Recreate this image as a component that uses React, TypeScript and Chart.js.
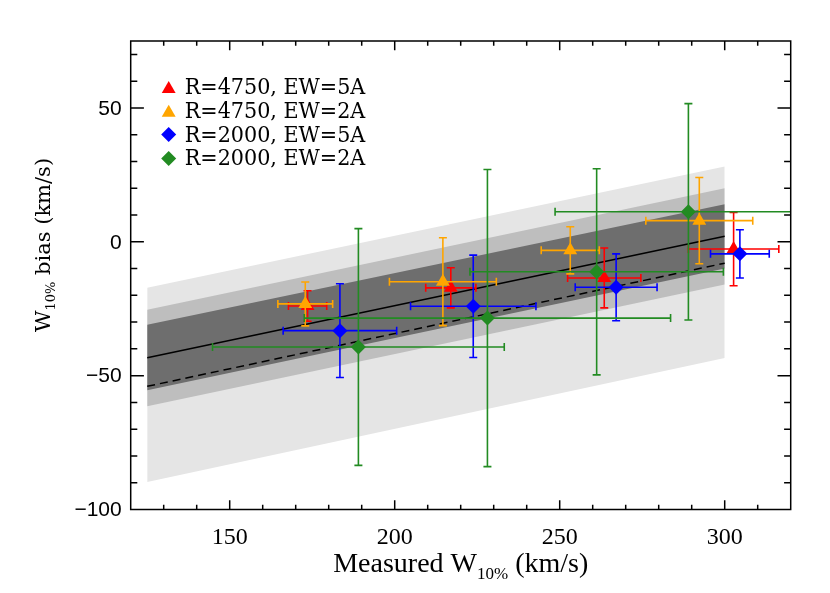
import React, { useEffect, useRef } from "react";
import { Chart, registerables } from "chart.js";

Chart.register(...registerables);

// ---- axes ----
const xMin = 120;
const xMax = 320;
const yMin = -100;
const yMax = 75;
const xMajorTicks = [150, 200, 250, 300];
const yMajorTicks = [-100, -50, 0, 50];
const minorStep = 10;

// ---- series ----
const seriesLabels = ["R=4750, EW=5A", "R=4750, EW=2A", "R=2000, EW=5A", "R=2000, EW=2A"];
const seriesColors = ["#ff0000", "#ffa500", "#0000ff", "#228b22"];
const seriesShapes = ["triangle", "triangle", "rectRot", "rectRot"];

const redX = [173.6, 217.0, 263.5, 302.7];
const redY = [-24.0, -17.2, -13.5, -2.7];
const redXErr = [5.8, 7.6, 11.1, 13.7];
const redYErr = [5.7, 7.5, 11.2, 13.7];

const orangeX = [172.9, 214.6, 253.2, 292.3];
const orangeY = [-23.2, -14.9, -3.2, 7.9];
const orangeXErr = [8.3, 16.2, 8.8, 16.2];
const orangeYErr = [8.2, 16.4, 8.8, 16.1];

const blueX = [183.4, 223.8, 267.1, 304.6];
const blueY = [-33.2, -24.1, -17.0, -4.5];
const blueXErr = [17.2, 19.0, 12.4, 8.9];
const blueYErr = [17.5, 19.1, 12.5, 9.0];

const greenX = [189.0, 228.1, 261.2, 289.0];
const greenY = [-39.3, -28.5, -11.2, 11.2];
const greenXErr = [44.2, 55.5, 38.4, 40.4];
const greenYErr = [44.2, 55.5, 38.5, 40.4];

// ---- fit lines and bands ----
const bandX = [125, 300];
const fitSolid = [-43.3, 2.1];
const fitDashed = [-54.0, -8.0];
const lightUpper = [-17.2, 28.1];
const lightLower = [-89.7, -43.4];
const midUpper = [-25.4, 20.0];
const midLower = [-61.4, -16.0];
const darkUpper = [-31.0, 14.0];
const darkLower = [-55.5, -10.0];

const lightColor = "#e5e5e5";
const midColor = "#bebebe";
const darkColor = "#6e6e6e";

const seriesX = [redX, orangeX, blueX, greenX];
const seriesY = [redY, orangeY, blueY, greenY];
const seriesXErr = [redXErr, orangeXErr, blueXErr, greenXErr];
const seriesYErr = [redYErr, orangeYErr, blueYErr, greenYErr];

const pts = (xs: number[], ys: number[]) => xs.map((x, i) => ({ x, y: ys[i] }));

function markerPath(ctx: CanvasRenderingContext2D, shape: string, x: number, y: number, r: number) {
  ctx.beginPath();
  if (shape === "triangle") {
    ctx.moveTo(x, y - r);
    ctx.lineTo(x + r * Math.sin((2 * Math.PI) / 3), y - r * Math.cos((2 * Math.PI) / 3));
    ctx.lineTo(x + r * Math.sin((4 * Math.PI) / 3), y - r * Math.cos((4 * Math.PI) / 3));
  } else {
    ctx.moveTo(x - r, y);
    ctx.lineTo(x, y - r);
    ctx.lineTo(x + r, y);
    ctx.lineTo(x, y + r);
  }
  ctx.closePath();
}

const errorBarPlugin = {
  id: "errorBars",
  beforeDatasetDraw(chart: any, args: any) {
    const ds = chart.data.datasets[args.index];
    if (!ds.xErr) return;
    const { ctx, chartArea: a, scales } = chart;
    const sx = scales.x;
    const sy = scales.y;
    const cap = 4;
    ctx.save();
    ctx.beginPath();
    ctx.rect(a.left, a.top, a.right - a.left, a.bottom - a.top);
    ctx.clip();
    ctx.strokeStyle = ds.borderColor;
    ctx.lineWidth = 1.6;
    ds.data.forEach((p: any, i: number) => {
      const x0 = sx.getPixelForValue(p.x - ds.xErr[i]);
      const x1 = sx.getPixelForValue(p.x + ds.xErr[i]);
      const y0 = sy.getPixelForValue(p.y - ds.yErr[i]);
      const y1 = sy.getPixelForValue(p.y + ds.yErr[i]);
      const px = sx.getPixelForValue(p.x);
      const py = sy.getPixelForValue(p.y);
      ctx.beginPath();
      ctx.moveTo(x0, py); ctx.lineTo(x1, py);
      ctx.moveTo(x0, py - cap); ctx.lineTo(x0, py + cap);
      ctx.moveTo(x1, py - cap); ctx.lineTo(x1, py + cap);
      ctx.moveTo(px, y0); ctx.lineTo(px, y1);
      ctx.moveTo(px - cap, y0); ctx.lineTo(px + cap, y0);
      ctx.moveTo(px - cap, y1); ctx.lineTo(px + cap, y1);
      ctx.stroke();
    });
    ctx.restore();
  },
};

function drawScaledText(ctx: CanvasRenderingContext2D, text: string, x: number, y: number, sx: number) {
  ctx.save();
  ctx.translate(x, y);
  ctx.scale(sx, 1);
  ctx.fillText(text, 0, 0);
  ctx.restore();
}

const framePlugin = {
  id: "frame",
  afterDatasetsDraw(chart: any) {
    const { ctx, chartArea: a, scales } = chart;
    const sx = scales.x;
    const sy = scales.y;
    const w = a.right - a.left;
    const h = a.bottom - a.top;
    ctx.save();
    ctx.strokeStyle = "#000";
    ctx.fillStyle = "#000";
    ctx.lineWidth = 1.5;
    ctx.strokeRect(a.left, a.top, w, h);
    const xLen = 0.02 * h;
    const yLen = 0.02 * w;
    ctx.beginPath();
    for (let v = xMin + minorStep; v < xMax; v += minorStep) {
      const px = sx.getPixelForValue(v);
      const len = xMajorTicks.includes(v) ? xLen : xLen / 2;
      ctx.moveTo(px, a.bottom); ctx.lineTo(px, a.bottom - len);
      ctx.moveTo(px, a.top); ctx.lineTo(px, a.top + len);
    }
    for (let v = yMin + minorStep; v < yMax; v += minorStep) {
      const py = sy.getPixelForValue(v);
      const len = yMajorTicks.includes(v) ? yLen : yLen / 2;
      ctx.moveTo(a.left, py); ctx.lineTo(a.left + len, py);
      ctx.moveTo(a.right, py); ctx.lineTo(a.right - len, py);
    }
    ctx.stroke();

    // x tick labels
    ctx.font = "24px 'Liberation Serif'";
    ctx.textAlign = "center";
    ctx.textBaseline = "alphabetic";
    xMajorTicks.forEach((v) => {
      ctx.fillText(String(v), sx.getPixelForValue(v), a.bottom + 34.5);
    });
    // y tick labels
    ctx.font = "21px 'Liberation Sans'";
    ctx.textAlign = "right";
    ctx.textBaseline = "middle";
    yMajorTicks.forEach((v) => {
      const t = v < 0 ? "\u2212" + String(-v) : String(v);
      ctx.fillText(t, a.left - 9, sy.getPixelForValue(v) + 1);
    });

    // x title
    const cx = (a.left + a.right) / 2;
    const mainFont = "28px 'Liberation Serif'";
    const subFont = "17px 'Liberation Serif'";
    const p1 = "Measured W";
    const p2 = "10%";
    const p3 = " (km/s)";
    ctx.font = mainFont;
    const w1 = ctx.measureText(p1).width;
    const w3 = ctx.measureText(p3).width;
    ctx.font = subFont;
    const w2 = ctx.measureText(p2).width;
    const startX = cx - (w1 + w2 + w3) / 2;
    const base = a.bottom + 62.5;
    ctx.textAlign = "left";
    ctx.textBaseline = "alphabetic";
    ctx.font = mainFont;
    ctx.fillText(p1, startX, base);
    ctx.font = subFont;
    ctx.fillText(p2, startX + w1, base + 7);
    ctx.font = mainFont;
    ctx.fillText(p3, startX + w1 + w2, base);

    // y title (rotated)
    ctx.save();
    ctx.translate(50, 245);
    ctx.rotate(-Math.PI / 2);
    const yMain = "21px 'DejaVu Serif'";
    const ySub = "13px 'DejaVu Serif'";
    const q1 = "W";
    const q2 = "10%";
    const q3 = " bias (km/s)";
    ctx.font = yMain;
    const v1 = ctx.measureText(q1).width;
    const v3 = ctx.measureText(q3).width;
    ctx.font = ySub;
    const v2 = ctx.measureText(q2).width;
    const s0 = -(v1 + v2 + v3) / 2;
    ctx.font = yMain;
    ctx.fillText(q1, s0, 0);
    ctx.font = ySub;
    ctx.fillText(q2, s0 + v1, 5);
    ctx.font = yMain;
    ctx.fillText(q3, s0 + v1 + v2, 0);
    ctx.restore();

    // legend
    const lx = a.left + 38;
    const ly0 = a.top + 46;
    const step = 23.8;
    ctx.font = "23px 'DejaVu Serif'";
    ctx.textAlign = "left";
    ctx.textBaseline = "middle";
    seriesLabels.forEach((lab, i) => {
      const yy = ly0 + i * step;
      ctx.fillStyle = seriesColors[i];
      const shape = seriesShapes[i];
      markerPath(ctx, shape, lx, shape === "triangle" ? yy + 2 : yy, shape === "triangle" ? 8 : 7.5);
      ctx.fill();
      ctx.fillStyle = "#000";
      drawScaledText(ctx, lab, lx + 16, yy + 1, 0.9);
    });
    ctx.restore();
  },
};

function lineDs(ys: number[], extra: any) {
  return {
    type: "line",
    data: pts(bandX, ys),
    pointRadius: 0,
    borderColor: "rgba(0,0,0,0)",
    borderWidth: 1,
    fill: false,
    ...extra,
  };
}

export default function App() {
  const ref = useRef<HTMLCanvasElement>(null);
  useEffect(() => {
    const datasets: any[] = [];
    // scatter series (first = drawn on top)
    const drawOrder = [3, 1, 2, 0];
    drawOrder.forEach((si, k) => {
      datasets.push({
        type: "scatter",
        label: seriesLabels[si],
        data: pts(seriesX[si], seriesY[si]),
        xErr: seriesXErr[si],
        yErr: seriesYErr[si],
        pointStyle: seriesShapes[si],
        pointRadius: seriesShapes[si] === "triangle" ? 8 : 7.5,
        pointHoverRadius: 8,
        backgroundColor: seriesColors[si],
        borderColor: seriesColors[si],
        borderWidth: 0,
        showLine: false,
        order: k,
      });
    });
    datasets.push(lineDs(fitSolid, { borderColor: "#000", borderWidth: 1.5, order: 10 }));
    datasets.push(lineDs(fitDashed, { borderColor: "#000", borderWidth: 1.5, borderDash: [8, 5], order: 11 }));
    const nBase = datasets.length;
    datasets.push(lineDs(darkUpper, { fill: { target: nBase + 1 }, backgroundColor: darkColor, order: 20 }));
    datasets.push(lineDs(darkLower, { order: 21 }));
    datasets.push(lineDs(midUpper, { fill: { target: nBase + 3 }, backgroundColor: midColor, order: 22 }));
    datasets.push(lineDs(midLower, { order: 23 }));
    datasets.push(lineDs(lightUpper, { fill: { target: nBase + 5 }, backgroundColor: lightColor, order: 24 }));
    datasets.push(lineDs(lightLower, { order: 25 }));

    const chart = new Chart(ref.current as HTMLCanvasElement, {
      type: "scatter",
      data: { datasets },
      options: {
        animation: false,
        responsive: false,
        devicePixelRatio: 1,
        layout: { padding: { left: 130.7, right: 39.3, top: 41, bottom: 83.5 } },
        scales: {
          x: { type: "linear", min: xMin, max: xMax, display: false },
          y: { type: "linear", min: yMin, max: yMax, display: false },
        },
        plugins: {
          legend: { display: false },
          tooltip: { enabled: false },
          filler: { drawTime: "beforeDatasetDraw" },
        },
        events: [],
      } as any,
      plugins: [errorBarPlugin, framePlugin],
    } as any);
    return () => chart.destroy();
  }, []);
  return (
    <div style={{ position: "fixed", left: 0, top: 0, width: 830, height: 593, background: "#fff" }}>
      <canvas ref={ref} width={830} height={593} style={{ display: "block", width: 830, height: 593 }} />
    </div>
  );
}
